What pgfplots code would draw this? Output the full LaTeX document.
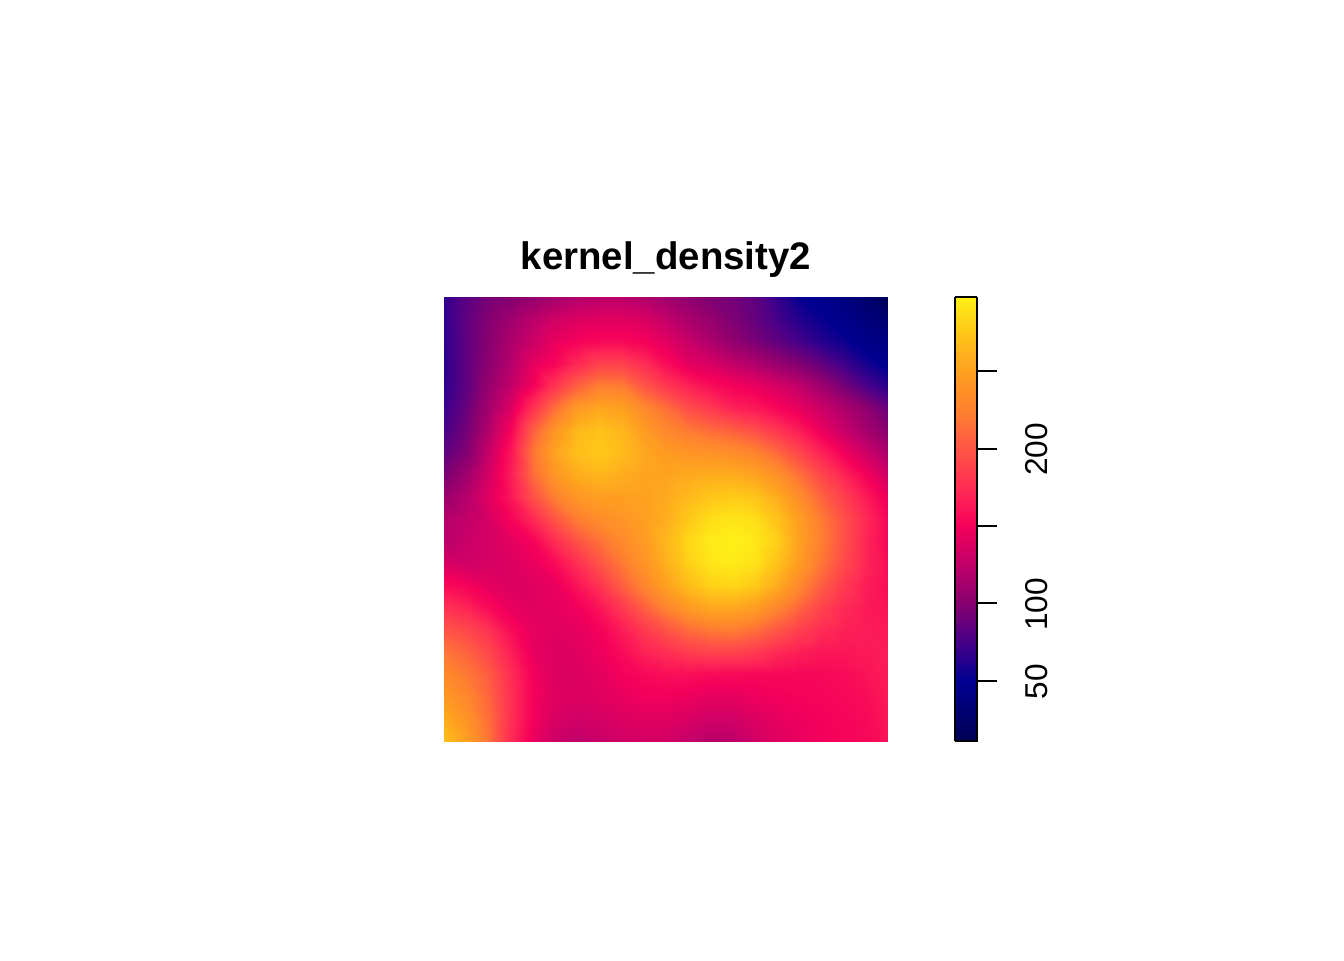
\documentclass[border=0pt]{standalone}
\usepackage{fontspec}
\setmainfont{Liberation Sans}
\usepackage{pgfplots}
\pgfplotsset{compat=1.18}
\pgfplotsset{
  colormap={dens}{
    rgb255(11)=(0,0,85);
    rgb255(50)=(0,0,145);
    rgb255(76)=(75,0,136);
    rgb255(100)=(136,0,112);
    rgb255(128)=(200,0,104);
    rgb255(150)=(245,0,90);
    rgb255(173)=(255,42,85);
    rgb255(200)=(255,85,69);
    rgb255(224)=(255,128,48);
    rgb255(250)=(255,160,32);
    rgb255(276)=(255,200,24);
    rgb255(298)=(255,240,24)
  },
}
\begin{document}
\begin{tikzpicture}
\path[use as bounding box] (0,0) rectangle (672pt,480pt);
\begin{axis}[
  at={(222pt,109.5pt)},anchor=south west,
  scale only axis,width=222pt,height=222pt,
  view={0}{90},hide axis,
  xmin=0,xmax=20,ymin=0,ymax=20,
  colormap name=dens,point meta min=11,point meta max=298,
  title={\textbf{kernel\_density2}},
  title style={font=\fontsize{19.2pt}{20pt}\selectfont,at={(0.5,1)},anchor=south,yshift=0pt},
]
\addplot3[surf,shader=interp,mesh/cols=21] coordinates {
(0,20,67)(1,20,82)(2,20,92)(3,20,98)(4,20,105)(5,20,112)(6,20,118)(7,20,122)(8,20,122)(9,20,118)(10,20,110)(11,20,103)(12,20,96)(13,20,92)(14,20,84)(15,20,68)(16,20,52)(17,20,47)(18,20,38)(19,20,26)(20,20,11)
(0,19,67)(1,19,84)(2,19,98)(3,19,110)(4,19,122)(5,19,132)(6,19,138)(7,19,140)(8,19,140)(9,19,136)(10,19,126)(11,19,115)(12,19,106)(13,19,96)(14,19,86)(15,19,74)(16,19,62)(17,19,53)(18,19,45)(19,19,36)(20,19,28)
(0,18,66)(1,18,84)(2,18,100)(3,18,116)(4,18,130)(5,18,144)(6,18,150)(7,18,154)(8,18,154)(9,18,150)(10,18,140)(11,18,128)(12,18,116)(13,18,104)(14,18,94)(15,18,84)(16,18,74)(17,18,63)(18,18,54)(19,18,44)(20,18,40)
(0,17,65)(1,17,84)(2,17,102)(3,17,120)(4,17,142)(5,17,153)(6,17,172)(7,17,188)(8,17,188)(9,17,175)(10,17,157)(11,17,142)(12,17,136)(13,17,126)(14,17,118)(15,17,108)(16,17,98)(17,17,86)(18,17,72)(19,17,58)(20,17,47)
(0,16,66)(1,16,84)(2,16,106)(3,16,126)(4,16,150)(5,16,180)(6,16,207)(7,16,224)(8,16,222)(9,16,200)(10,16,182)(11,16,168)(12,16,158)(13,16,150)(14,16,145)(15,16,135)(16,16,125)(17,16,110)(18,16,93)(19,16,77)(20,16,64)
(0,15,70)(1,15,88)(2,15,112)(3,15,138)(4,15,178)(5,15,215)(6,15,244)(7,15,254)(8,15,250)(9,15,232)(10,15,214)(11,15,195)(12,15,182)(13,15,168)(14,15,163)(15,15,153)(16,15,143)(17,15,130)(18,15,117)(19,15,103)(20,15,88)
(0,14,75)(1,14,92)(2,14,118)(3,14,152)(4,14,205)(5,14,242)(6,14,265)(7,14,272)(8,14,264)(9,14,246)(10,14,230)(11,14,220)(12,14,212)(13,14,205)(14,14,195)(15,14,180)(16,14,165)(17,14,145)(18,14,128)(19,14,113)(20,14,100)
(0,13,84)(1,13,98)(2,13,127)(3,13,162)(4,13,218)(5,13,252)(6,13,270)(7,13,276)(8,13,268)(9,13,254)(10,13,245)(11,13,240)(12,13,238)(13,13,234)(14,13,226)(15,13,210)(16,13,190)(17,13,168)(18,13,148)(19,13,130)(20,13,115)
(0,12,95)(1,12,110)(2,12,134)(3,12,166)(4,12,212)(5,12,242)(6,12,258)(7,12,264)(8,12,258)(9,12,252)(10,12,252)(11,12,256)(12,12,258)(13,12,258)(14,12,252)(15,12,238)(16,12,216)(17,12,192)(18,12,170)(19,12,150)(20,12,132)
(0,11,108)(1,11,120)(2,11,140)(3,11,162)(4,11,196)(5,11,224)(6,11,242)(7,11,248)(8,11,248)(9,11,250)(10,11,256)(11,11,266)(12,11,274)(13,11,278)(14,11,274)(15,11,258)(16,11,235)(17,11,208)(18,11,186)(19,11,164)(20,11,146)
(0,10,120)(1,10,126)(2,10,135)(3,10,152)(4,10,172)(5,10,200)(6,10,222)(7,10,234)(8,10,240)(9,10,248)(10,10,258)(11,10,276)(12,10,288)(13,10,292)(14,10,288)(15,10,272)(16,10,248)(17,10,222)(18,10,196)(19,10,172)(20,10,153)
(0,9,122)(1,9,128)(2,9,135)(3,9,142)(4,9,152)(5,9,175)(6,9,198)(7,9,215)(8,9,232)(9,9,245)(10,9,265)(11,9,284)(12,9,295)(13,9,298)(14,9,294)(15,9,280)(16,9,250)(17,9,224)(18,9,196)(19,9,170)(20,9,153)
(0,8,136)(1,8,132)(2,8,135)(3,8,138)(4,8,145)(5,8,156)(6,8,176)(7,8,198)(8,8,220)(9,8,240)(10,8,260)(11,8,280)(12,8,292)(13,8,295)(14,8,290)(15,8,272)(16,8,246)(17,8,218)(18,8,192)(19,8,170)(20,8,156)
(0,7,157)(1,7,152)(2,7,143)(3,7,138)(4,7,140)(5,7,144)(6,7,160)(7,7,178)(8,7,205)(9,7,228)(10,7,250)(11,7,268)(12,7,280)(13,7,283)(14,7,276)(15,7,256)(16,7,230)(17,7,204)(18,7,182)(19,7,165)(20,7,157)
(0,6,178)(1,6,170)(2,6,156)(3,6,144)(4,6,140)(5,6,142)(6,6,148)(7,6,160)(8,6,182)(9,6,205)(10,6,226)(11,6,244)(12,6,254)(13,6,254)(14,6,246)(15,6,228)(16,6,208)(17,6,188)(18,6,172)(19,6,164)(20,6,160)
(0,5,200)(1,5,192)(2,5,178)(3,5,156)(4,5,143)(5,5,140)(6,5,142)(7,5,150)(8,5,165)(9,5,182)(10,5,198)(11,5,212)(12,5,220)(13,5,222)(14,5,214)(15,5,200)(16,5,186)(17,5,174)(18,5,167)(19,5,165)(20,5,163)
(0,4,218)(1,4,208)(2,4,192)(3,4,166)(4,4,144)(5,4,138)(6,4,140)(7,4,146)(8,4,156)(9,4,168)(10,4,176)(11,4,184)(12,4,188)(13,4,188)(14,4,182)(15,4,172)(16,4,166)(17,4,162)(18,4,162)(19,4,164)(20,4,165)
(0,3,232)(1,3,220)(2,3,204)(3,3,174)(4,3,149)(5,3,138)(6,3,138)(7,3,142)(8,3,150)(9,3,155)(10,3,158)(11,3,158)(12,3,156)(13,3,155)(14,3,154)(15,3,154)(16,3,153)(17,3,154)(18,3,156)(19,3,160)(20,3,165)
(0,2,245)(1,2,230)(2,2,210)(3,2,176)(4,2,150)(5,2,140)(6,2,138)(7,2,140)(8,2,144)(9,2,148)(10,2,148)(11,2,146)(12,2,142)(13,2,142)(14,2,146)(15,2,149)(16,2,151)(17,2,152)(18,2,154)(19,2,157)(20,2,164)
(0,1,258)(1,1,240)(2,1,214)(3,1,176)(4,1,149)(5,1,136)(6,1,132)(7,1,134)(8,1,138)(9,1,140)(10,1,140)(11,1,136)(12,1,132)(13,1,132)(14,1,138)(15,1,142)(16,1,146)(17,1,150)(18,1,152)(19,1,155)(20,1,162)
(0,0,270)(1,0,250)(2,0,218)(3,0,172)(4,0,145)(5,0,130)(6,0,124)(7,0,128)(8,0,132)(9,0,134)(10,0,134)(11,0,126)(12,0,121)(13,0,123)(14,0,132)(15,0,140)(16,0,144)(17,0,148)(18,0,152)(19,0,154)(20,0,160)
};
\end{axis}
\begin{axis}[
  at={(477.5pt,109.5pt)},anchor=south west,
  scale only axis,width=11pt,height=222pt,
  view={0}{90},
  xmin=0,xmax=1,ymin=11,ymax=298,
  colormap name=dens,point meta min=11,point meta max=298,
  axis on top,
  axis line style={black,line width=1pt},
  xtick=\empty,
  ytick={50,100,150,200,250},
  yticklabels={50,100,,200,},
  ytick pos=right,yticklabel pos=right,
  tick align=outside,
  major tick length=10pt,
  tick style={black,line width=1pt},
  yticklabel style={rotate=90,anchor=north,font=\fontsize{15.8pt}{16pt}\selectfont,xshift=-0.5pt,yshift=-10.8pt},
]
\addplot3[surf,shader=interp,mesh/cols=2] coordinates {
(0,11,11)(1,11,11)
(0,50,50)(1,50,50)
(0,76,76)(1,76,76)
(0,100,100)(1,100,100)
(0,128,128)(1,128,128)
(0,150,150)(1,150,150)
(0,173,173)(1,173,173)
(0,200,200)(1,200,200)
(0,224,224)(1,224,224)
(0,250,250)(1,250,250)
(0,276,276)(1,276,276)
(0,298,298)(1,298,298)
};
\end{axis}
\end{tikzpicture}
\end{document}
